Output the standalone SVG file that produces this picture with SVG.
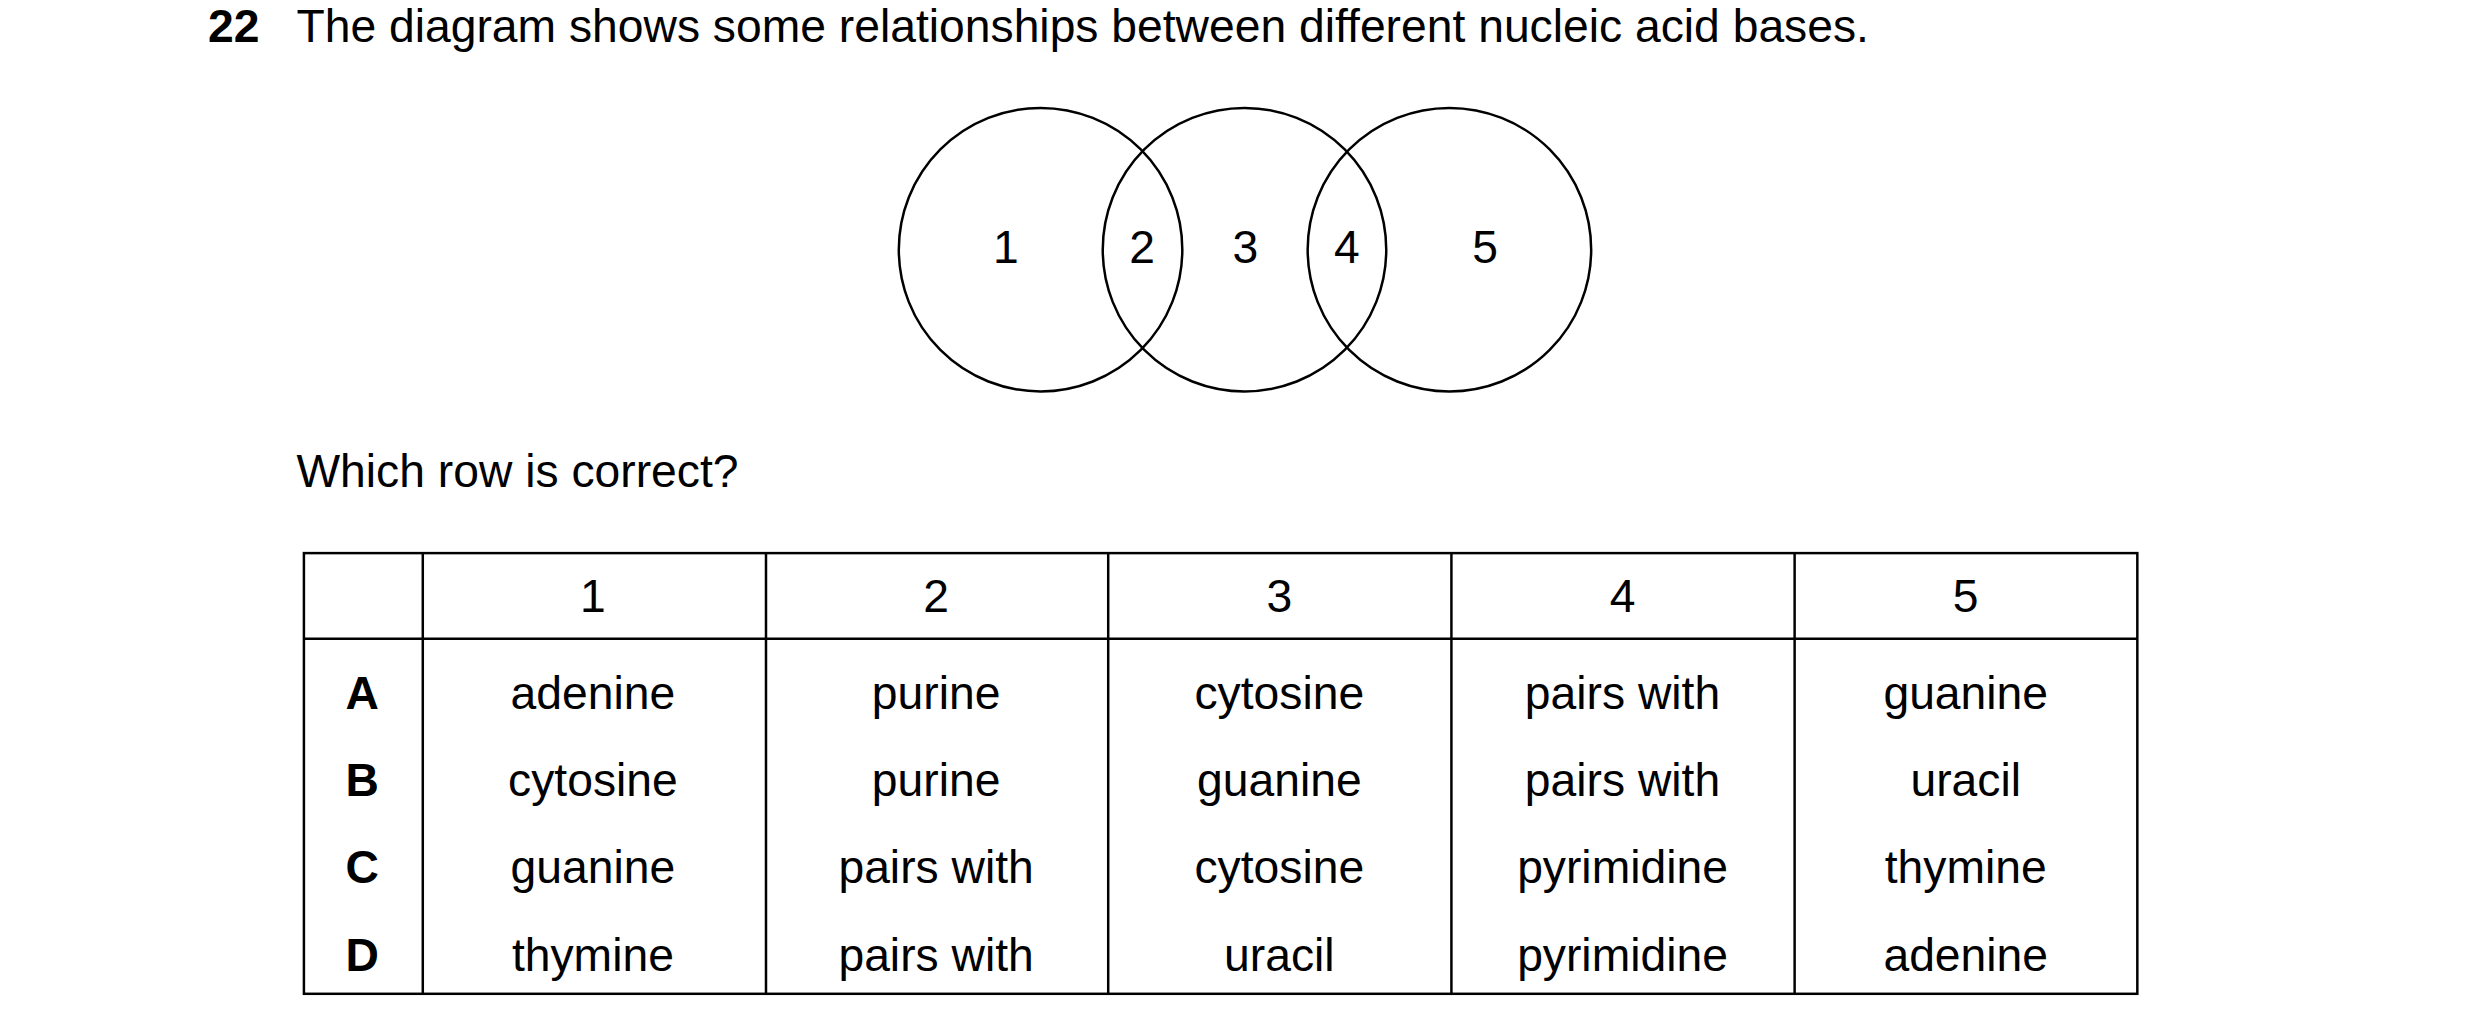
<svg xmlns="http://www.w3.org/2000/svg" width="2480" height="1028" viewBox="0 0 2480 1028">
<style>
text{font-family:"Liberation Sans",Arial,sans-serif;font-size:46.5px;fill:#000}
.c{text-anchor:middle}
.b{font-weight:bold}
.ln{stroke:#000;stroke-width:2.5;fill:none}
</style>
<rect width="2480" height="1028" fill="#fff"/>
<g transform="scale(0.9948)">
<text x="209" y="42" class="b">22</text>
<text x="298" y="42">The diagram shows some relationships between different nucleic acid bases.</text>
<g id="venn">
<circle class="ln" cx="1046" cy="251" r="142.5"/>
<circle class="ln" cx="1251" cy="251" r="142.5"/>
<circle class="ln" cx="1457" cy="251" r="142.5"/>
<text class="c" x="1011" y="264">1</text>
<text class="c" x="1148" y="264">2</text>
<text class="c" x="1252" y="264">3</text>
<text class="c" x="1354" y="264">4</text>
<text class="c" x="1493" y="264">5</text>
</g>
<text x="298" y="490">Which row is correct?</text>
<g id="table">
<rect class="ln" x="305.5" y="556" width="1843" height="443"/>
<line class="ln" x1="305.5" y1="642" x2="2148.5" y2="642"/>
<line class="ln" x1="425" y1="556" x2="425" y2="999"/>
<line class="ln" x1="770" y1="556" x2="770" y2="999"/>
<line class="ln" x1="1114" y1="556" x2="1114" y2="999"/>
<line class="ln" x1="1459" y1="556" x2="1459" y2="999"/>
<line class="ln" x1="1804" y1="556" x2="1804" y2="999"/>
<text class="c" x="596" y="615">1</text><text class="c" x="941" y="615">2</text><text class="c" x="1286" y="615">3</text><text class="c" x="1631" y="615">4</text><text class="c" x="1976" y="615">5</text>
<text class="c b" x="364" y="713">A</text><text class="c" x="596" y="713">adenine</text><text class="c" x="941" y="713">purine</text><text class="c" x="1286" y="713">cytosine</text><text class="c" x="1631" y="713">pairs with</text><text class="c" x="1976" y="713">guanine</text>
<text class="c b" x="364" y="800">B</text><text class="c" x="596" y="800">cytosine</text><text class="c" x="941" y="800">purine</text><text class="c" x="1286" y="800">guanine</text><text class="c" x="1631" y="800">pairs with</text><text class="c" x="1976" y="800">uracil</text>
<text class="c b" x="364" y="888">C</text><text class="c" x="596" y="888">guanine</text><text class="c" x="941" y="888">pairs with</text><text class="c" x="1286" y="888">cytosine</text><text class="c" x="1631" y="888">pyrimidine</text><text class="c" x="1976" y="888">thymine</text>
<text class="c b" x="364" y="976">D</text><text class="c" x="596" y="976">thymine</text><text class="c" x="941" y="976">pairs with</text><text class="c" x="1286" y="976">uracil</text><text class="c" x="1631" y="976">pyrimidine</text><text class="c" x="1976" y="976">adenine</text>
</g>
</g>
</svg>
